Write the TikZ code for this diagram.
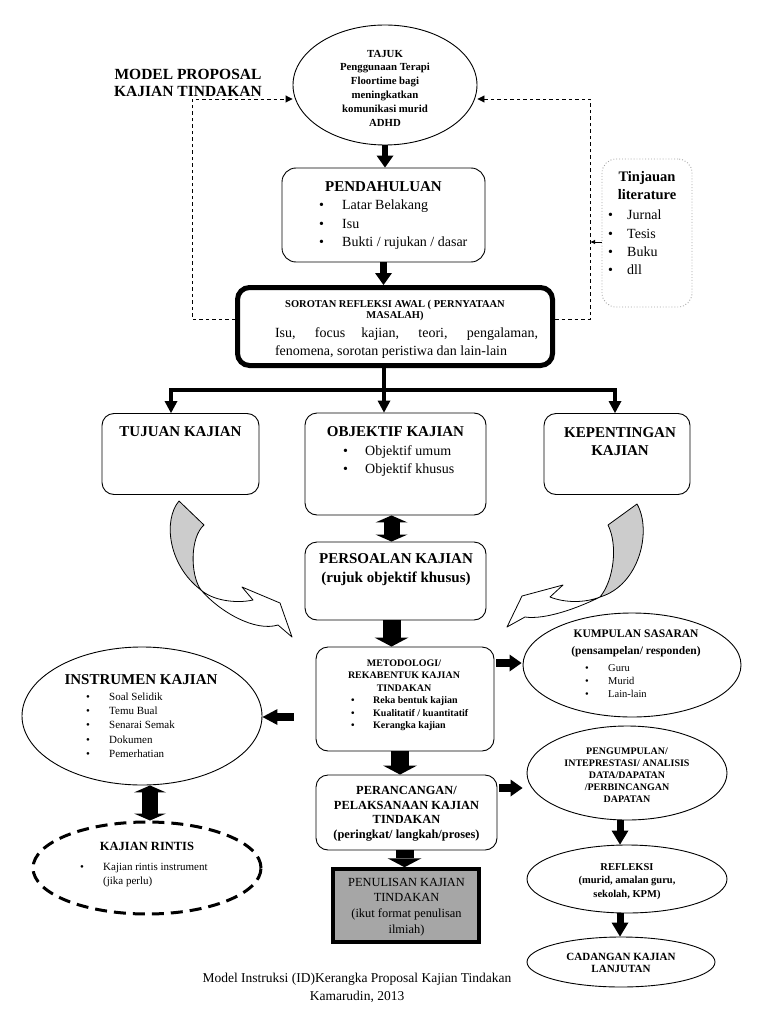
\documentclass[tikz,border=0pt]{standalone}
\usepackage{fontspec}
\setmainfont{Liberation Serif}
\usetikzlibrary{arrows.meta,shapes.geometric,calc}
\newcommand{\fsz}[2]{\fontsize{#1}{#2}\selectfont}
\newcommand{\bul}[1]{\makebox[#1][l]{\textbullet}}
\begin{document}
\begin{tikzpicture}[x=1pt,y=-1pt,
  box/.style={draw, rounded corners=12pt, line width=0.9pt, inner sep=0pt},
  ell/.style={draw, ellipse, line width=0.9pt, inner sep=0pt},
  txt/.style={inner sep=0pt, align=center},
  lst/.style={inner sep=0pt, align=left, anchor=west},
  barrowS/.style={line width=6.5pt, -{Triangle[length=12pt,width=17pt,line width=0pt]}},
  barrowSide/.style={line width=8pt, -{Triangle[length=12pt,width=17pt,line width=0pt]}},
  barrowBig/.style={line width=18pt, -{Triangle[length=9pt,width=34pt,line width=0pt]}},
  barrowDbl/.style={line width=16pt, {Triangle[length=7pt,width=32pt,line width=0pt]}-{Triangle[length=7pt,width=32pt,line width=0pt]}},
  branch/.style={line width=4pt, -{Triangle[length=12pt,width=13pt,line width=0pt]}},
  fback/.style={line width=0.9pt, dash pattern=on 3.5pt off 3pt},
  curvy/.style={draw, line width=0.8pt, line join=round},
]
\fill[white] (0,0) rectangle (768,1024);
\useasboundingbox (0,0) rectangle (768,1024);

% ---- top ----
\node[txt, font=\bfseries\fsz{15.5}{17}] (model) at (188,83) {MODEL PROPOSAL\\KAJIAN TINDAKAN};
\node[ell, minimum width=184pt, minimum height=120pt] (tajuk) at (385,85) {};
\node[txt, font=\bfseries\fsz{10.8}{13.8}] (tajukT) at (385,88) {TAJUK\\Penggunaan Terapi\\Floortime bagi\\meningkatkan\\komunikasi murid\\ADHD};

\node[box, minimum width=203pt, minimum height=94pt, rounded corners=14pt] (pend) at (383.5,215) {};
\node[txt, font=\bfseries\fsz{15}{18}] (pendT) at (383.5,187) {PENDAHULUAN};
\node[lst, font=\fsz{14}{18.5}] (pendL) at (319,225) {\bul{23pt}Latar Belakang\\\bul{23pt}Isu\\\bul{23pt}Bukti / rujukan / dasar};

\node[draw=gray!70, dotted, line width=0.9pt, rounded corners=14pt, inner sep=0pt, minimum width=90pt, minimum height=148pt] (tinj) at (647,233) {};
\node[txt, font=\bfseries\fsz{14.5}{18}] (tinjT) at (647,186) {Tinjauan\\literature};
\node[lst, font=\fsz{14}{18.3}] (tinjL) at (608,242.5) {\bul{19pt}Jurnal\\\bul{19pt}Tesis\\\bul{19pt}Buku\\\bul{19pt}dll};

\node[draw, line width=5pt, rounded corners=12pt, inner sep=0pt, minimum width=315pt, minimum height=78pt] (soro) at (395,326.5) {};
\node[txt, font=\bfseries\fsz{10.5}{11.5}] (soroH) at (395,310.5) {SOROTAN REFLEKSI AWAL ( PERNYATAAN\\MASALAH)};
\node[inner sep=0pt, text width=263pt, align=justify, font=\fsz{14}{17.5}] (soroB) at (406.5,343) {Isu, focus kajian, teori, pengalaman,\linebreak fenomena, sorotan peristiwa dan lain-lain};

% arrows top
\draw[barrowS] (tajuk.south) -- (tajuk.south |- pend.north);
\draw[barrowS] (pend.south) -- (pend.south |- soro.north);

% feedback dashed
\coordinate (dl1) at (192,319);
\coordinate (dl2) at (192,99);
\coordinate (dr1) at (590,319);
\coordinate (dr2) at (590,99);
\draw[fback, -{Triangle[length=7pt,width=7pt]}] (soro.west |- dl1) -- (dl1) -- (dl2) -- (dl2 -| tajuk.west);
\draw[fback, -{Triangle[length=7pt,width=7pt]}] (soro.east |- dr1) -- (dr1) -- (dr2) -- (dr2 -| tajuk.east);
\draw[line width=0.8pt, -{Latex[length=5pt,width=4.5pt]}] ([yshift=-9pt]tinj.west) -- ([yshift=-9pt]tinj.west -| dr1);

% ---- branch ----
\node[box, minimum width=157pt, minimum height=81pt] (tuj) at (180.5,454) {};
\node[txt, font=\bfseries\fsz{15}{18}] (tujT) at (180.5,432) {TUJUAN KAJIAN};
\node[box, minimum width=181pt, minimum height=102pt] (obj) at (395.5,464) {};
\node[txt, font=\bfseries\fsz{15}{18}] (objT) at (395.5,432) {OBJEKTIF KAJIAN};
\node[lst, font=\fsz{14}{18}] (objL) at (343,461) {\bul{22pt}Objektif umum\\\bul{22pt}Objektif khusus};
\node[box, minimum width=146pt, minimum height=81pt] (kep) at (617,454) {};
\node[txt, font=\bfseries\fsz{15}{18}] (kepT) at (620,442) {KEPENTINGAN\\KAJIAN};

\coordinate (jc) at (384,390);
\coordinate (jl) at (171,390);
\coordinate (jr) at (615,390);
\draw[line width=4pt] (soro.south -| jc) -- (jc);
\draw[line width=4pt, line cap=rect] (jl) -- (jr);
\draw[branch] (jl) -- (jl |- tuj.north);
\draw[branch] (jc) -- (jc |- obj.north);
\draw[branch] (jr) -- (jr |- kep.north);

\node[box, minimum width=181pt, minimum height=78pt] (pers) at (395.5,581) {};
\node[txt, font=\bfseries\fsz{15}{19}] (persT) at (396,569.5) {PERSOALAN KAJIAN\\(rujuk objektif khusus)};
\draw[barrowDbl] ([xshift=-4pt]obj.south) -- ([xshift=-4pt]pers.north);

% curved grey arrows
\path[curvy, fill=white] (201,590) .. controls (220,612) and (255,632) .. (278,625) -- (292,637) -- (280,603) -- (242,587) -- (253,600) .. controls (235,604) and (212,600) .. (201,590) -- cycle;
\path[curvy, fill=gray!40] (179,501) -- (204,525) .. controls (190,537) and (190,575) .. (201,590) .. controls (168,565) and (163,520) .. cycle;
\path[curvy, fill=white] (600,597) .. controls (578,608) and (545,620) .. (525,617) -- (507,627) -- (522,596) -- (563,585) -- (550,597) .. controls (565,603) and (585,603) .. (600,597) -- cycle;
\path[curvy, fill=gray!40] (637,504) .. controls (652,530) and (640,585) .. (600,597) .. controls (614,580) and (618,545) .. (608,525) -- cycle;

% ---- methodology ----
\node[box, minimum width=178pt, minimum height=104pt] (met) at (405,699) {};
\node[txt, font=\bfseries\fsz{10}{12.5}] (metT) at (404,675.5) {METODOLOGI/\\REKABENTUK KAJIAN\\TINDAKAN};
\node[lst, font=\bfseries\fsz{10}{12.5}] (metL) at (351,714) {\bul{22pt}Reka bentuk kajian\\\bul{22pt}Kualitatif / kuantitatif\\\bul{22pt}Kerangka kajian};
\draw[barrowBig] ([xshift=-4pt]pers.south) -- ([xshift=-4pt]pers.south |- met.north);

\node[ell, minimum width=218pt, minimum height=104pt] (kum) at (632,665) {};
\node[txt, font=\bfseries\fsz{11.5}{17}] (kumT) at (636,643.5) {KUMPULAN SASARAN\\(pensampelan/ responden)};
\begin{scope}
\clip (560,655) rectangle (700,697);
\node[lst, font=\fsz{10.5}{13}] (kumL) at (585,681) {\bul{23pt}Guru\\\bul{23pt}Murid\\\bul{23pt}Lain-lain};
\end{scope}
\draw[barrowSide, shorten <=2pt, shorten >=1pt] ([yshift=36pt]met.east) -- ([yshift=36pt]met.east -| kum.west);

\node[ell, minimum width=240pt, minimum height=138pt] (ins) at (142,716) {};
\node[txt, font=\bfseries\fsz{15}{18}] (insT) at (141,680) {INSTRUMEN KAJIAN};
\node[lst, font=\fsz{11}{14.3}] (insL) at (86,725) {\bul{23pt}Soal Selidik\\\bul{23pt}Temu Bual\\\bul{23pt}Senarai Semak\\\bul{23pt}Dokumen\\\bul{23pt}Pemerhatian};
\draw[line width=8pt, -{Triangle[length=15pt,width=16pt,line width=0pt]}, shorten <=22pt] ([yshift=-18pt]met.west) -- ([yshift=-18pt]met.west -| ins.east);

\node[draw, ellipse, line width=3pt, dash pattern=on 12pt off 7pt, inner sep=0pt, minimum width=228pt, minimum height=92pt] (rin) at (147,868) {};
\node[txt, font=\bfseries\fsz{12.5}{15}] (rinT) at (147,846) {KAJIAN RINTIS};
\node[lst, font=\fsz{11}{14}] (rinL) at (80,875) {\bul{23pt}Kajian rintis instrument\\\hspace*{23pt}(jika perlu)};
\draw[barrowDbl] ([xshift=8pt]ins.south) -- ([xshift=8pt]ins.south |- rin.north);

% ---- implementation ----
\node[box, minimum width=181pt, minimum height=75pt] (per) at (406.5,812.5) {};
\node[txt, font=\bfseries\fsz{12.4}{14.5}] (perT) at (406.5,814) {PERANCANGAN/\\PELAKSANAAN KAJIAN\\TINDAKAN\\(peringkat/ langkah/proses)};
\draw[barrowBig] ([xshift=-5pt]met.south) -- ([xshift=-5pt]met.south |- per.north);

\node[draw, line width=3.5pt, fill=gray!70, inner sep=0pt, minimum width=146pt, minimum height=73pt] (pen) at (406,905.5) {};
\node[txt, font=\fsz{12.4}{15.7}] (penT) at (406.5,907) {PENULISAN KAJIAN\\TINDAKAN\\(ikut format penulisan\\ilmiah)};
\draw[barrowBig] ([xshift=-2pt]per.south) -- ([xshift=-2pt]per.south |- pen.north);

\node[ell, minimum width=200pt, minimum height=94pt] (peng) at (627,773) {};
\node[txt, font=\bfseries\fsz{10}{12}] (pengT) at (627,775) {PENGUMPULAN/\\INTEPRESTASI/ ANALISIS\\DATA/DAPATAN\\/PERBINCANGAN\\DAPATAN};
\draw[barrowSide, shorten <=2pt, shorten >=4pt] ([yshift=24.5pt]per.east) -- ([yshift=24.5pt]per.east -| peng.west);

\node[ell, minimum width=200pt, minimum height=68pt] (ref) at (627,879) {};
\node[txt, font=\bfseries\fsz{10.5}{13.5}] (refT) at (627,881.5) {REFLEKSI\\(murid, amalan guru,\\sekolah, KPM)};
\draw[line width=7pt, -{Triangle[length=14pt,width=17pt,line width=0pt]}] ([xshift=-7pt]peng.south) -- ([xshift=-7pt]peng.south |- ref.north);

\node[ell, minimum width=188pt, minimum height=50pt] (cad) at (621,962) {};
\node[txt, font=\bfseries\fsz{11}{12.5}] (cadT) at (621,963) {CADANGAN KAJIAN\\LANJUTAN};
\draw[line width=7pt, -{Triangle[length=14pt,width=17pt,line width=0pt]}] ([xshift=-7pt]ref.south) -- ([xshift=-7pt]ref.south |- cad.north);

\node[txt, font=\fsz{13.5}{18}] (foot) at (357,988) {Model Instruksi (ID)Kerangka Proposal Kajian Tindakan\\Kamarudin, 2013};
\end{tikzpicture}
\end{document}
